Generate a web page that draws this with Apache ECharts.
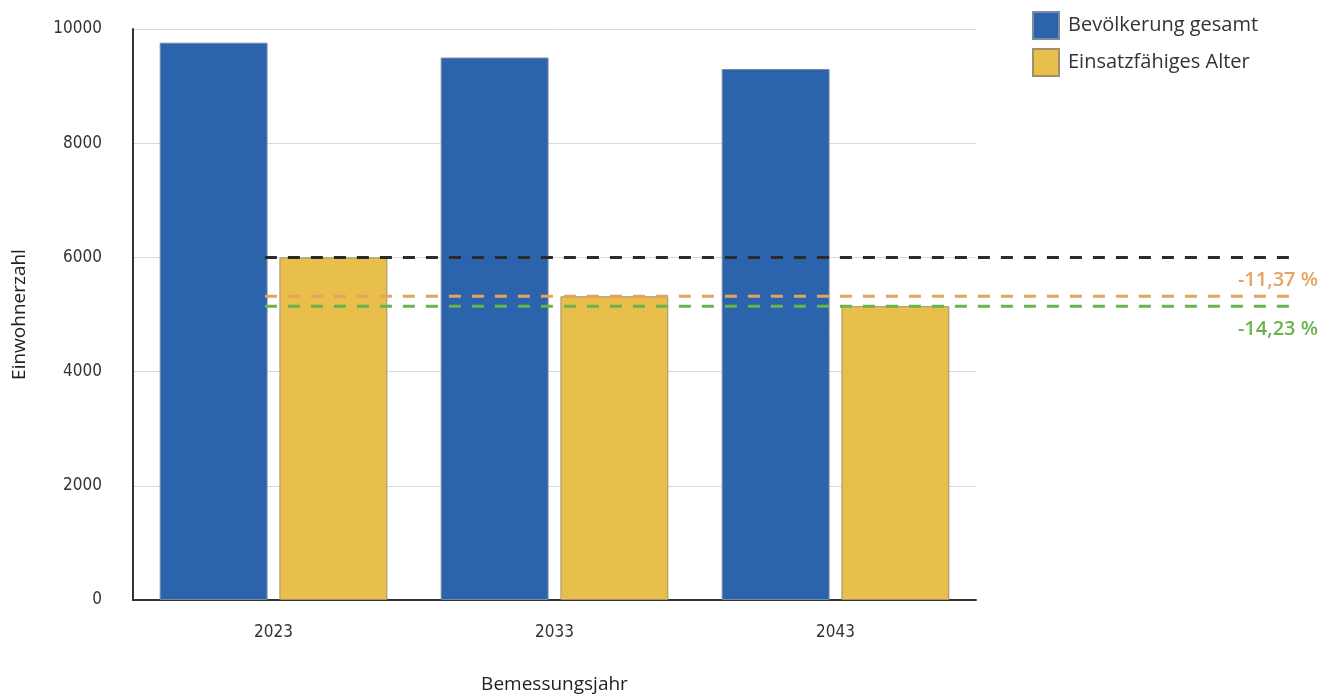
<!DOCTYPE html>
<html>
<head>
<meta charset="utf-8">
<script src="https://cdn.jsdelivr.net/npm/echarts@6/dist/echarts.min.js"></script>
<style>
  html, body { margin: 0; padding: 0; background: #fff; }
  #chart { width: 1334px; height: 700px; }
</style>
</head>
<body>
<div id="chart"></div>
<script>
// Bevölkerungsentwicklung nach Bemessungsjahr
const years = ['2023', '2033', '2043'];
const totalPopulation = [9760, 9500, 9300];
const workingAge = [6000, 5318, 5146];
const yTicks = [0, 2000, 4000, 6000, 8000, 10000];

// Veränderung des einsatzfähigen Alters gegenüber 2023
const pct = v => ((v / workingAge[0] - 1) * 100).toFixed(2).replace('.', ',') + ' %';

const narrowFont = '"Liberation Sans Narrow", "DejaVu Sans Condensed", "Roboto Condensed", sans-serif';
const mainFont = '"Open Sans", "Noto Sans", sans-serif';

const gridTop = 29, gridBottom = 100, gridLeft = 133;

// Referenzlinien laufen über den Diagrammbereich hinaus bis zu den Beschriftungen
function refLine(value, color, labelText, below) {
  return {
    type: 'line',
    xAxisIndex: 1,
    yAxisIndex: 1,
    symbol: 'none',
    silent: true,
    clip: false,
    z: 5,
    lineStyle: { color: color, width: 3, type: [12, 11] },
    endLabel: labelText ? {
      show: true,
      formatter: labelText,
      distance: 0,
      align: 'right',
      verticalAlign: below ? 'top' : 'bottom',
      offset: [28, below ? 13 : -6],
      color: color,
      fontFamily: mainFont,
      fontWeight: 600,
      fontSize: 20
    } : { show: false },
    data: [[11.4, value], [100, value]]
  };
}

const chart = echarts.init(document.getElementById('chart'));
chart.setOption({
  animation: false,
  backgroundColor: '#fff',
  legend: {
    orient: 'vertical',
    left: 1027,
    top: 6,
    icon: 'rect',
    itemWidth: 26,
    itemHeight: 27,
    itemGap: 8,
    textStyle: { fontFamily: mainFont, fontSize: 20, color: '#333', padding: [0, 0, 0, 4] },
    data: ['Bevölkerung gesamt', 'Einsatzfähiges Alter']
  },
  grid: [
    { left: gridLeft, right: 358, top: gridTop, bottom: gridBottom },
    { left: gridLeft, right: 44, top: gridTop, bottom: gridBottom }
  ],
  xAxis: [
    {
      type: 'category',
      data: years,
      gridIndex: 0,
      axisTick: { show: false },
      axisLine: { lineStyle: { color: '#333', width: 2 } },
      axisLabel: { margin: 24, fontFamily: narrowFont, fontSize: 17, color: '#333' },
      name: 'Bemessungsjahr',
      nameLocation: 'middle',
      nameGap: 75,
      nameTextStyle: { fontFamily: mainFont, fontSize: 19, color: '#222' }
    },
    { type: 'value', gridIndex: 1, min: 0, max: 100, show: false }
  ],
  yAxis: [
    {
      type: 'value',
      gridIndex: 0,
      min: 0,
      max: 10000,
      interval: 2000,
      axisLine: { show: true, lineStyle: { color: '#333', width: 2 } },
      axisTick: { show: false },
      splitLine: { lineStyle: { color: '#d9d9d9', width: 1 } },
      axisLabel: {
        margin: 31,
        fontFamily: narrowFont,
        fontSize: 17,
        color: '#333',
        formatter: v => (yTicks.includes(v) ? String(v) : '')
      },
      name: 'Einwohnerzahl',
      nameLocation: 'middle',
      nameGap: 104,
      nameTextStyle: { fontFamily: mainFont, fontSize: 19, color: '#222' }
    },
    { type: 'value', gridIndex: 1, min: 0, max: 10000, show: false }
  ],
  series: [
    {
      name: 'Bevölkerung gesamt',
      type: 'bar',
      data: totalPopulation,
      barGap: '11%',
      barCategoryGap: '19%',
      itemStyle: { color: '#2b63ac', borderColor: '#7a8aa0', borderWidth: 1 }
    },
    {
      name: 'Einsatzfähiges Alter',
      type: 'bar',
      data: workingAge,
      itemStyle: { color: '#e8bf4b', borderColor: '#a09070', borderWidth: 1 }
    },
    refLine(workingAge[0], '#2b2b2b', null, false),
    refLine(workingAge[1], '#e5a35e', pct(workingAge[1]), false),
    refLine(workingAge[2], '#6cb34c', pct(workingAge[2]), true)
  ]
});
</script>
</body>
</html>
